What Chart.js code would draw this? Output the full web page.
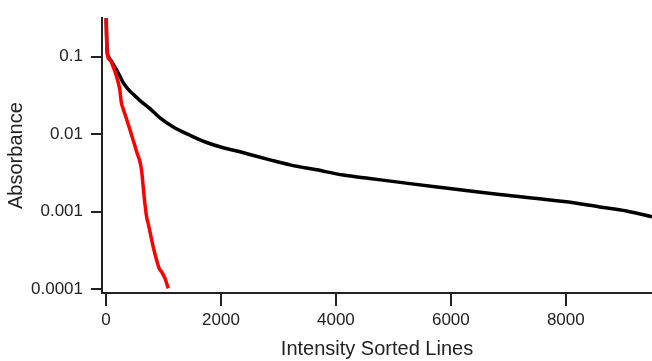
<!DOCTYPE html>
<html>
<head>
<meta charset="utf-8">
<script src="https://cdn.jsdelivr.net/npm/chart.js@4"></script>
<style>
html,body{margin:0;padding:0;background:#fff;}
#wrap{width:652px;height:361px;position:relative;}
</style>
</head>
<body>
<div id="wrap"><canvas id="c"></canvas></div>
<script>
// Black series (intensity-sorted lines, full set)
const blackX = [0, 20, 50, 92, 179, 238, 296, 383, 499, 591, 765, 939, 1170, 1461, 1751, 2040, 2330, 2600, 2852, 3200, 3664, 4127, 4591, 5287, 5980, 6850, 8010, 8590, 9055, 9500];
const blackY = [0.35, 0.12, 0.098, 0.088, 0.0689, 0.0567, 0.0466, 0.0382, 0.0315, 0.0272, 0.0214, 0.0162, 0.0124, 0.0097, 0.00781, 0.00668, 0.00594, 0.00522, 0.00466, 0.00402, 0.00347, 0.00297, 0.00268, 0.0023, 0.00199, 0.00166, 0.00134, 0.00115, 0.00102, 0.00086];
// Red series
const redX = [0, 8, 25, 70, 120, 179, 238, 266, 300, 340, 400, 470, 534, 591, 621, 649, 678, 708, 736, 823, 882, 927, 969, 1026, 1083];
const redY = [0.6, 0.2, 0.105, 0.091, 0.076, 0.0567, 0.0382, 0.0259, 0.021, 0.0172, 0.0125, 0.0085, 0.0059, 0.0044, 0.0033, 0.0020, 0.00124, 0.00084, 0.00069, 0.000346, 0.000234, 0.000183, 0.000166, 0.000137, 0.000102];
// Axis ticks
const xTicks = [0, 2000, 4000, 6000, 8000];
const yTicks = [0.1, 0.01, 0.001, 0.0001];
const yTickLabels = ["0.1", "0.01", "0.001", "0.0001"];
const xTitle = "Intensity Sorted Lines";
const yTitle = "Absorbance";

const toPts = (xs, ys) => xs.map((x, i) => ({x: x, y: ys[i]}));
const FONT = "'Liberation Sans', Arial, Helvetica, sans-serif";
const AX = '#222';

new Chart(document.getElementById('c'), {
  type: 'line',
  data: {
    datasets: [
      {data: toPts(redX, redY), borderColor: '#ff0000', borderWidth: 3.5, pointRadius: 0, cubicInterpolationMode: 'monotone', order: 0},
      {data: toPts(blackX, blackY), borderColor: '#000000', borderWidth: 3.5, pointRadius: 0, cubicInterpolationMode: 'monotone', order: 1}
    ]
  },
  options: {
    responsive: true,
    maintainAspectRatio: false,
    animation: false,
    layout: {padding: {top: 15, right: 0, left: 0, bottom: 0}},
    plugins: {legend: {display: false}, tooltip: {enabled: false}},
    scales: {
      x: {
        type: 'linear',
        min: -70,
        max: 9500,
        afterBuildTicks: s => { s.ticks = xTicks.map(v => ({value: v})); },
        afterFit: s => { s.height = 68; },
        grid: {display: true, drawOnChartArea: false, drawTicks: true, tickLength: 13, color: AX, lineWidth: 2},
        border: {display: true, color: AX, width: 2},
        ticks: {color: AX, font: {family: FONT, size: 17}, padding: 4, maxRotation: 0, callback: v => String(v)},
        title: {display: true, text: xTitle, color: AX, font: {family: FONT, size: 20}, padding: {top: 0, bottom: 0}}
      },
      y: {
        type: 'logarithmic',
        min: 0.0000889,
        max: 0.315,
        afterBuildTicks: s => { s.ticks = yTicks.map(v => ({value: v})); },
        afterFit: s => { s.width = 102; },
        grid: {display: true, drawOnChartArea: false, drawTicks: true, tickLength: 11, color: AX, lineWidth: 2},
        border: {display: true, color: AX, width: 2},
        ticks: {color: AX, font: {family: FONT, size: 17}, padding: 8, callback: v => { const i = yTicks.indexOf(v); return i >= 0 ? yTickLabels[i] : ''; }},
        title: {display: true, text: yTitle, color: AX, font: {family: FONT, size: 20}, padding: {top: 4, bottom: 0}}
      }
    }
  }
});
</script>
</body>
</html>
